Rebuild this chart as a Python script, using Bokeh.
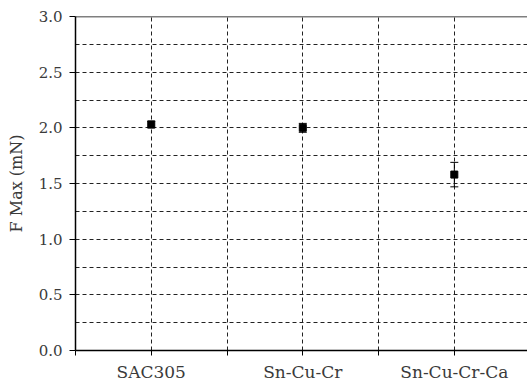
import numpy as np
from bokeh.plotting import figure
from bokeh.models import FixedTicker, Span, Whisker, ColumnDataSource, Range1d
from bokeh.embed import file_html
from bokeh.resources import INLINE

categories = ["SAC305", "Sn-Cu-Cr", "Sn-Cu-Cr-Ca"]
fmax = [2.03, 2.0, 1.58]
err = [0.03, 0.04, 0.11]
y_ticks = [0.0, 0.5, 1.0, 1.5, 2.0, 2.5, 3.0]

xpos = np.arange(len(categories)) + 0.5
src = ColumnDataSource(dict(x=xpos, y=fmax,
                            lo=np.array(fmax) - np.array(err),
                            hi=np.array(fmax) + np.array(err)))

FONT = "DejaVu Serif"
TXT = "#3a3a3a"

p = figure(width=527, height=385, output_backend="svg", toolbar_location=None,
           x_range=Range1d(0, 2.983), y_range=Range1d(0, 3.0))
p.min_border_left = 75
p.min_border_right = 0
p.min_border_top = 16
p.min_border_bottom = 35
p.outline_line_color = None
p.background_fill_color = "white"
p.border_fill_color = "white"

# x axis
xt = [i * 0.5 for i in range(7)]
p.xaxis.ticker = FixedTicker(ticks=xt)
p.xaxis.major_label_overrides = {x: "" for x in xt}
for x, c in zip(xpos, categories):
    p.xaxis.major_label_overrides[float(x)] = c
p.xaxis.major_tick_in = 0
p.xaxis.major_tick_out = 5
p.xaxis.minor_tick_out = 0
p.xaxis.axis_line_color = "black"
p.xaxis.axis_line_width = 1.5
p.xaxis.major_tick_line_color = "black"
p.xaxis.major_label_text_font = FONT
p.xaxis.major_label_text_font_size = "17px"
p.xaxis.major_label_text_color = TXT
p.xaxis.major_label_standoff = 6

# y axis
p.yaxis.ticker = FixedTicker(ticks=y_ticks,
                             minor_ticks=[0.25, 0.75, 1.25, 1.75, 2.25, 2.75])
p.yaxis.major_label_overrides = {t: f"{t:.1f}" for t in y_ticks}
p.yaxis.major_tick_in = 0
p.yaxis.major_tick_out = 6
p.yaxis.minor_tick_in = 0
p.yaxis.minor_tick_out = 0
p.yaxis.axis_line_color = "black"
p.yaxis.axis_line_width = 1.5
p.yaxis.major_tick_line_color = "black"
p.yaxis.major_label_text_font = FONT
p.yaxis.major_label_text_font_size = "15px"
p.yaxis.major_label_text_color = TXT
p.yaxis.major_label_standoff = 7
p.yaxis.axis_label = "F Max (mN)"
p.yaxis.axis_label_text_font = FONT
p.yaxis.axis_label_text_font_size = "16px"
p.yaxis.axis_label_text_font_style = "normal"
p.yaxis.axis_label_text_color = TXT
p.yaxis.axis_label_standoff = 10

# grids
p.xgrid.grid_line_color = "#222222"
p.xgrid.grid_line_dash = "4 3"
p.xgrid.grid_line_width = 1
p.ygrid.grid_line_color = "#222222"
p.ygrid.grid_line_dash = "4 3"
p.ygrid.grid_line_width = 1
p.ygrid.minor_grid_line_color = "#222222"
p.ygrid.minor_grid_line_dash = "4 3"
p.ygrid.minor_grid_line_width = 1

p.add_layout(Span(location=3.0, dimension="width", line_color="black", line_width=1.5))

w = Whisker(base="x", lower="lo", upper="hi", source=src, dimension="height",
            line_color="black", line_width=1)
w.upper_head.size = 8
w.lower_head.size = 8
w.upper_head.line_color = "black"
w.lower_head.line_color = "black"
p.add_layout(w)

p.scatter("x", "y", source=src, marker="square", size=7, color="black")

open("out.html", "w").write(file_html(p, INLINE))
